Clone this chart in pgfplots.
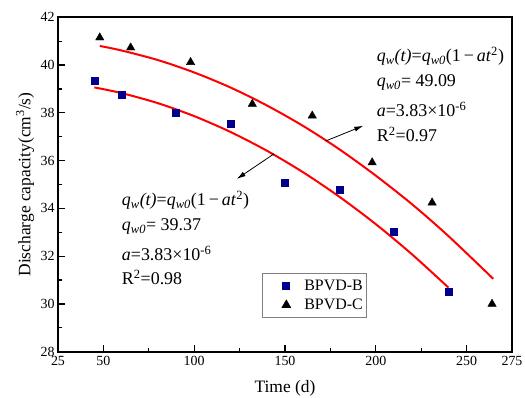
\documentclass[border=0pt]{standalone}
\usepackage{pgfplots}
\pgfplotsset{compat=1.18}
\usepackage{fontspec}
\setmainfont{Liberation Serif}
\usetikzlibrary{arrows.meta}
\definecolor{navyb}{RGB}{0,0,139}
\newcommand{\anno}{\fontsize{18}{20}\selectfont}
\begin{document}
\begin{tikzpicture}
\path[use as bounding box] (-58bp,-46.3bp) rectangle (467bp,351.7bp);
\begin{axis}[
  at={(0,0)}, anchor=south west,
  width=454bp, height=334.4bp, scale only axis,
  xmin=25, xmax=275, ymin=28, ymax=42,
  xtick={25,50,100,150,200,250,275},
  minor xtick={75,125,175,225},
  ytick={28,30,...,42},
  minor ytick={29,31,...,41},
  xtick pos=left, ytick pos=left,
  tick align=inside,
  major tick length=7bp, minor tick length=4bp,
  every tick/.style={black, line width=1.2bp},
  axis line style={line width=1.6bp},
  /pgf/number format/assume math mode=true,
  tick label style={font=\fontsize{14}{14}\selectfont},
  xticklabel style={yshift=-1.5bp},
  xlabel={Time (d)},
  ylabel={Discharge capacity(cm\textsuperscript{3}/s)},
  label style={font=\fontsize{17.5}{18}\selectfont},
  x label style={at={(axis description cs:0.5,-0.1105)}, anchor=center},
  y label style={at={(axis description cs:-0.0727,0.5)}, anchor=center},
  clip=false,
  legend style={at={(axis cs:137.3,31.29)}, anchor=north west,
    draw=gray, line width=0.8bp, font=\fontsize{16}{17}\selectfont,
    inner xsep=2bp, inner ysep=4.5bp, row sep=3bp},
  legend cell align=left,
  legend image code/.code={\path[draw=none,fill=none] (0bp,-2bp) rectangle (38bp,2bp); \draw[#1] plot coordinates {(22bp,0bp)};},
]
\addplot[only marks, mark=square*, mark size=3.5bp, color=navyb] coordinates {
(45,39.35) (60,38.75) (90,38.0) (120,37.55) (150,35.07) (180,34.8) (210,33.03) (240,30.5)
};
\addlegendentry{BPVD-B\hspace{7bp}}
\addplot[only marks, mark=triangle*, mark size=4.8bp, color=black] coordinates {
(48,41.15) (65,40.73) (98,40.12) (132,38.37) (165,37.88) (198,35.92) (231,34.24) (264,30.0)
};
\addlegendentry{BPVD-C\hspace{7bp}}
\addplot[red, line width=2bp, smooth, forget plot] coordinates {
(45,39.065) (60,38.827) (80,38.405) (100,37.862) (120,37.199) (140,36.415) (160,35.510) (180,34.484) (200,33.339) (220,32.072) (240,30.685)
};
\addplot[red, line width=2bp, smooth, forget plot] coordinates {
(48,40.80) (60,40.61) (80,40.21) (100,39.69) (120,39.06) (140,38.31) (160,37.45) (180,36.47) (200,35.37) (220,34.17) (240,32.84) (264.7,31.05)
};
\draw[line width=0.8bp, -{Latex[length=9bp,width=5bp]}] (axis cs:172.4,36.82) -- (axis cs:193.1,37.46);
\draw[line width=0.8bp, -{Latex[length=9bp,width=5bp]}] (axis cs:143.9,36.28) -- (axis cs:123.4,35.23);
\node[anchor=base west, inner sep=0pt, font=\anno] at (axis cs:200.5,40.129) {\textit{q}\textsubscript{\textit{w}}\textit{(t)}=\textit{q}\textsubscript{\textit{w0}}(1\,−\,\textit{at}\textsuperscript{2})};
\node[anchor=base west, inner sep=0pt, font=\anno] at (axis cs:200.5,39.082) {\textit{q}\textsubscript{\textit{w0}}= 49.09};
\node[anchor=base west, inner sep=0pt, font=\anno] at (axis cs:200.5,37.847) {\textit{a}=3.83×10\textsuperscript{-6}};
\node[anchor=base west, inner sep=0pt, font=\anno] at (axis cs:200.5,36.800) {R\textsuperscript{2}=0.97};
\node[anchor=base west, inner sep=0pt, font=\anno] at (axis cs:60.1,34.121) {\textit{q}\textsubscript{\textit{w}}\textit{(t)}=\textit{q}\textsubscript{\textit{w0}}(1\,−\,\textit{at}\textsuperscript{2})};
\node[anchor=base west, inner sep=0pt, font=\anno] at (axis cs:60.1,33.074) {\textit{q}\textsubscript{\textit{w0}}= 39.37};
\node[anchor=base west, inner sep=0pt, font=\anno] at (axis cs:60.1,31.818) {\textit{a}=3.83×10\textsuperscript{-6}};
\node[anchor=base west, inner sep=0pt, font=\anno] at (axis cs:60.1,30.814) {R\textsuperscript{2}=0.98};
\end{axis}
\end{tikzpicture}
\end{document}
